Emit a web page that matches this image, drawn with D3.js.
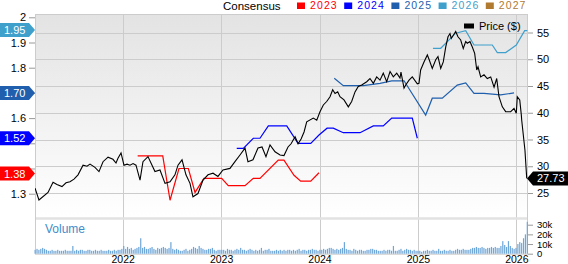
<!DOCTYPE html>
<html>
<head>
<meta charset="utf-8">
<script src="https://cdn.jsdelivr.net/npm/d3@7"></script>
<style>
  body { margin: 0; background: #fff; }
  svg { display: block; font-family: Arial, "Liberation Sans", sans-serif; }
</style>
</head>
<body>
<div id="chart"></div>
<script>
// ---- data (x = decimal year) ----
// closing price, $
const price = [
  [2021.109, 25.9], [2021.149, 23.7], [2021.241, 25.1], [2021.292, 27.0], [2021.332, 26.6],
  [2021.383, 26.2], [2021.424, 26.9], [2021.464, 27.1], [2021.505, 27.6], [2021.546, 28.4],
  [2021.597, 30.2], [2021.637, 30.0], [2021.668, 30.4], [2021.718, 29.8], [2021.759, 29.0],
  [2021.800, 30.85], [2021.851, 31.7], [2021.901, 31.3], [2021.932, 30.6], [2021.952, 31.5],
  [2021.983, 32.5], [2022.013, 30.2], [2022.044, 30.4], [2022.074, 30.2], [2022.105, 30.5],
  [2022.135, 30.2], [2022.176, 27.4], [2022.206, 30.85], [2022.257, 31.8], [2022.298, 30.2],
  [2022.328, 29.0], [2022.379, 29.3], [2022.430, 26.8], [2022.481, 27.1], [2022.531, 28.4],
  [2022.562, 30.2], [2022.603, 31.2], [2022.643, 28.4], [2022.684, 26.8], [2022.714, 24.3],
  [2022.765, 24.9], [2022.816, 27.4], [2022.867, 28.4], [2022.918, 28.7], [2022.968, 28.1],
  [2023.019, 29.3], [2023.090, 29.6], [2023.141, 30.85], [2023.192, 32.1], [2023.243, 33.4],
  [2023.273, 30.85], [2023.324, 31.2], [2023.375, 33.4], [2023.416, 33.6], [2023.456, 31.8],
  [2023.497, 34.0], [2023.548, 32.7], [2023.599, 32.1], [2023.639, 32.0], [2023.680, 33.6],
  [2023.711, 34.2], [2023.752, 35.5], [2023.782, 34.2], [2023.813, 35.1], [2023.843, 36.4],
  [2023.870, 38.3], [2023.937, 39.0], [2023.972, 38.6], [2024.005, 40.2], [2024.039, 41.45],
  [2024.073, 42.1], [2024.107, 43.0], [2024.134, 44.3], [2024.158, 43.6], [2024.185, 43.9],
  [2024.208, 43.0], [2024.249, 42.4], [2024.293, 41.1], [2024.327, 42.1], [2024.361, 43.9],
  [2024.394, 44.9], [2024.429, 45.2], [2024.480, 45.8], [2024.513, 46.4], [2024.547, 45.5],
  [2024.581, 46.7], [2024.615, 46.1], [2024.648, 47.4], [2024.683, 45.8], [2024.717, 47.7],
  [2024.750, 46.7], [2024.785, 47.4], [2024.818, 46.5], [2024.828, 47.6], [2024.859, 44.6],
  [2024.876, 45.2], [2024.910, 46.1], [2024.943, 46.7], [2024.994, 45.4], [2025.011, 45.5],
  [2025.028, 48.0], [2025.062, 49.5], [2025.096, 50.8], [2025.113, 50.0], [2025.146, 48.3],
  [2025.181, 49.9], [2025.204, 50.5], [2025.232, 48.3], [2025.258, 49.5], [2025.283, 52.3],
  [2025.306, 54.2], [2025.326, 54.8], [2025.339, 53.9], [2025.360, 54.5], [2025.384, 55.2],
  [2025.407, 54.2], [2025.435, 53.6], [2025.461, 52.0], [2025.486, 53.3], [2025.502, 53.0],
  [2025.529, 53.3], [2025.553, 52.3], [2025.577, 51.1], [2025.598, 48.0], [2025.611, 48.6],
  [2025.638, 46.7], [2025.672, 47.1], [2025.705, 46.4], [2025.740, 46.7], [2025.774, 44.8],
  [2025.801, 46.4], [2025.824, 43.0], [2025.858, 41.1], [2025.892, 40.2], [2025.943, 40.2],
  [2025.977, 40.8], [2026.000, 39.9], [2026.010, 43.0], [2026.035, 42.4], [2026.051, 39.6],
  [2026.055, 38.6], [2026.088, 33.0], [2026.106, 27.73]
];

// consensus EPS estimates by fiscal year
const eps2023 = [
  [2022.152, 1.45], [2022.407, 1.45], [2022.481, 1.274], [2022.572, 1.40], [2022.667, 1.40],
  [2022.735, 1.305], [2022.826, 1.361], [2023.006, 1.361], [2023.073, 1.332], [2023.243, 1.332],
  [2023.327, 1.361], [2023.395, 1.361], [2023.581, 1.433], [2023.639, 1.433], [2023.741, 1.373],
  [2023.809, 1.35], [2023.911, 1.35], [2023.995, 1.383]
];
const eps2024 = [
  [2023.159, 1.48], [2023.226, 1.48], [2023.327, 1.52], [2023.395, 1.52], [2023.480, 1.569],
  [2023.667, 1.569], [2023.782, 1.50], [2023.911, 1.50], [2023.995, 1.533], [2024.077, 1.56],
  [2024.140, 1.56], [2024.242, 1.542], [2024.412, 1.542], [2024.547, 1.569], [2024.648, 1.569],
  [2024.734, 1.60], [2024.943, 1.60], [2024.994, 1.52]
];
const eps2025 = [
  [2024.150, 1.758], [2024.242, 1.729], [2024.445, 1.729], [2024.615, 1.738], [2024.734, 1.748],
  [2024.859, 1.748], [2025.079, 1.612], [2025.146, 1.679], [2025.248, 1.679], [2025.400, 1.731],
  [2025.486, 1.74], [2025.570, 1.698], [2025.672, 1.698], [2025.841, 1.692], [2025.977, 1.70]
];
const eps2026 = [
  [2025.153, 1.877], [2025.232, 1.877], [2025.384, 1.937], [2025.486, 1.947], [2025.570, 1.89],
  [2025.756, 1.89], [2025.807, 1.86], [2025.892, 1.86], [2026.000, 1.89], [2026.085, 1.947],
  [2026.112, 1.947]
];

const legendYears = ["2023", "2024", "2025", "2026", "2027"];
const legendColors = ["#ff0000", "#0000ff", "#1f5fad", "#3fa0cc", "#b07a30"];
const lastEps = [
  { text: "1.95", value: 1.95, color: "#3fa0cc" },
  { text: "1.70", value: 1.70, color: "#1f5fad" },
  { text: "1.52", value: 1.52, color: "#0000ff" },
  { text: "1.38", value: 1.38, color: "#ff0000" }
];
const lastPrice = 27.73;

// weekly volume in thousands, first week starts at volumeStart
const volumeStart = 2021.11;
const volumeK = [
  4,5,4,5,6,5,4,3,3,4, 3,3,4,3,3,3,4,3,3,3, 8,3,4,3,4,4,3,3,4,4, 3,3,4,3,3,4,3,3,3,4, 3,3,4,3,4,4,5,
  8,5,7,5,6,4,5,6,7,16, 6,7,5,5,6,7,5,4,6,5, 6,7,6,5,6,12,5,4,5,4, 3,3,4,5,3,4,5,7,6,5, 8,6,5,4,4,5,5,6,4,3, 4,4,
  4,4,3,5,4,4,3,4,5,4, 6,4,4,3,4,5,4,3,4,3, 4,6,3,4,4,5,3,3,3,4, 3,4,3,4,3,4,4,3,4,3, 4,5,3,4,4,3,4,4,5,4, 4,3,
  4,4,5,4,5,6,6,5,4,5, 4,5,6,12,5,4,4,3,5,4, 3,4,4,3,3,4,4,5,5,4, 4,3,3,3,4,3,4,4,3,8, 3,3,4,5,3,4,5,4,4,3, 4,3,
  3,3,2,3,3,4,3,3,4,3, 3,5,3,3,4,3,3,4,3,3, 4,5,4,4,5,4,4,4,5,6, 6,7,6,6,7,6,5,6,6,7, 6,7,6,6,8,13,9,7,13,8, 6,5,
  6,10,12,11,16,20,33
];

const yearTicks = [2022, 2023, 2024, 2025, 2026];
const priceTicks = [25, 30, 35, 40, 45, 50, 55];
const epsTicks = [1.3, 1.4, 1.5, 1.6, 1.7, 1.8, 1.9, 2.0];
const epsHidden = [1.4, 1.5, 1.7];   // labels covered by the value flags
const volTicks = [0, 10, 20, 30];

// ---- layout ----
const W = 568, H = 264;
const L = 35, R = 528, T = 14, MID = 217, VB = 253.7;

const x = d3.scaleLinear().domain([2022, 2026]).range([122.7, 516.3]);
const yP = d3.scaleLinear().domain([25, 55]).range([193, 32.5]);
const yE = d3.scaleLinear().domain([1.3, 2.0]).range([193.7, 17.3]);
const yV = d3.scaleLinear().domain([0, 30]).range([VB, 224.7]);

const svg = d3.select("#chart").append("svg")
  .attr("width", W).attr("height", H);

const defs = svg.append("defs");
const grad = defs.append("linearGradient").attr("id", "bg")
  .attr("x1", 0).attr("y1", 0).attr("x2", 0).attr("y2", 1);
grad.append("stop").attr("offset", "0%").attr("stop-color", "#e3e3e3");
grad.append("stop").attr("offset", "100%").attr("stop-color", "#ffffff");
defs.append("clipPath").attr("id", "clip")
  .append("rect").attr("x", L).attr("y", T).attr("width", R - L).attr("height", MID - T);

svg.append("rect").attr("width", W).attr("height", H).attr("fill", "#fff");
svg.append("rect").attr("x", L).attr("y", T).attr("width", R - L).attr("height", MID - T)
  .attr("fill", "url(#bg)");

// grid
svg.append("g").selectAll("line").data(priceTicks).join("line")
  .attr("x1", L).attr("x2", R)
  .attr("y1", d => Math.round(yP(d)) + 0.5).attr("y2", d => Math.round(yP(d)) + 0.5)
  .attr("stroke", "#cccccc");
svg.append("g").selectAll("line").data(yearTicks).join("line")
  .attr("x1", d => Math.round(x(d)) + 0.5).attr("x2", d => Math.round(x(d)) + 0.5)
  .attr("y1", T).attr("y2", VB)
  .attr("stroke", "#cccccc");

// frame + separator
svg.append("line").attr("x1", L).attr("x2", R).attr("y1", MID + 1.5).attr("y2", MID + 1.5)
  .attr("stroke", "#e2e2e2").attr("stroke-width", 2.5);
svg.append("rect").attr("x", L + 0.5).attr("y", T + 0.5).attr("width", R - L - 1).attr("height", VB - T)
  .attr("fill", "none").attr("stroke", "#cccccc");

// volume
const wk = 1 / 52.18;
svg.append("g").selectAll("rect").data(volumeK).join("rect")
  .attr("x", (d, i) => x(volumeStart + i * wk) - 0.6)
  .attr("width", 1.2)
  .attr("y", d => yV(d))
  .attr("height", d => VB - yV(d))
  .attr("fill", "#6ea6d8");
svg.append("text").attr("x", 45).attr("y", 233).attr("font-size", 12)
  .attr("fill", "#3f8dcb").text("Volume");

// lines
const plot = svg.append("g").attr("clip-path", "url(#clip)");
const lineE = d3.line().x(d => x(d[0])).y(d => yE(d[1]));
const lineP = d3.line().x(d => x(d[0])).y(d => yP(d[1]));
[eps2023, eps2024, eps2025, eps2026].forEach((s, i) => {
  plot.append("path").datum(s).attr("d", lineE)
    .attr("fill", "none").attr("stroke", legendColors[i]).attr("stroke-width", 1.2);
});
plot.append("path").datum(price).attr("d", lineP)
  .attr("fill", "none").attr("stroke", "#000").attr("stroke-width", 1.1);

// axes
function styleAxis(g, size) {
  g.select(".domain").remove();
  g.selectAll(".tick line").attr("stroke", "#999");
  g.selectAll("text").attr("fill", "#000").attr("font-size", size || 11)
    .attr("font-family", "Arial, 'Liberation Sans', sans-serif");
}
svg.append("g").attr("transform", `translate(${R},0)`)
  .call(d3.axisRight(yP).tickValues(priceTicks).tickSize(5).tickPadding(4))
  .call(styleAxis);
svg.append("g").attr("transform", `translate(${R},0)`)
  .call(d3.axisRight(yV).tickValues(volTicks).tickSize(5).tickPadding(4)
    .tickFormat(d => d === 0 ? "0" : d + "k"))
  .call(styleAxis, 9.5);
svg.append("g").attr("transform", `translate(${L},0)`)
  .call(d3.axisLeft(yE).tickValues(epsTicks).tickSize(6).tickPadding(3)
    .tickFormat(d => epsHidden.includes(d) ? "" : d3.format("~g")(d)))
  .call(styleAxis);
svg.append("g").attr("transform", `translate(0,${VB})`)
  .call(d3.axisBottom(x).tickValues(yearTicks).tickSize(0).tickPadding(2).tickFormat(d3.format("d")))
  .call(styleAxis, 10.5);

// last-value flags
lastEps.forEach(f => {
  const cy = yE(f.value);
  svg.append("path")
    .attr("d", `M0,${cy - 7}H29L35,${cy}L29,${cy + 7}H0Z`)
    .attr("fill", f.color);
  svg.append("text").attr("x", 4).attr("y", cy + 4).attr("font-size", 11)
    .attr("fill", "#fff").text(f.text);
});
{
  const cy = yP(lastPrice);
  svg.append("path")
    .attr("d", `M${R - 1},${cy}L${R + 5},${cy - 7}H${W}V${cy + 7}H${R + 5}Z`)
    .attr("fill", "#000");
  svg.append("text").attr("x", 537).attr("y", cy + 4).attr("font-size", 11)
    .attr("fill", "#fff").text(lastPrice.toFixed(2));
}

// legends
svg.append("text").attr("x", 223).attr("y", 9.5).attr("font-size", 11.5)
  .attr("fill", "#000").text("Consensus");
const leg = svg.append("g").selectAll("g").data(legendYears).join("g")
  .attr("transform", (d, i) => `translate(${297 + i * 47.2},0)`);
leg.append("rect").attr("x", 0).attr("y", 2.5).attr("width", 8).attr("height", 6.5)
  .attr("fill", (d, i) => legendColors[i]);
leg.append("text").attr("x", 13).attr("y", 9.3).attr("font-size", 10.5)
  .attr("letter-spacing", 1.1)
  .attr("fill", (d, i) => legendColors[i]).text(d => d);

svg.append("rect").attr("x", 464).attr("y", 23.5).attr("width", 10).attr("height", 5)
  .attr("fill", "#000");
svg.append("text").attr("x", 479).attr("y", 30).attr("font-size", 11)
  .attr("fill", "#000").text("Price ($)");
</script>
</body>
</html>
